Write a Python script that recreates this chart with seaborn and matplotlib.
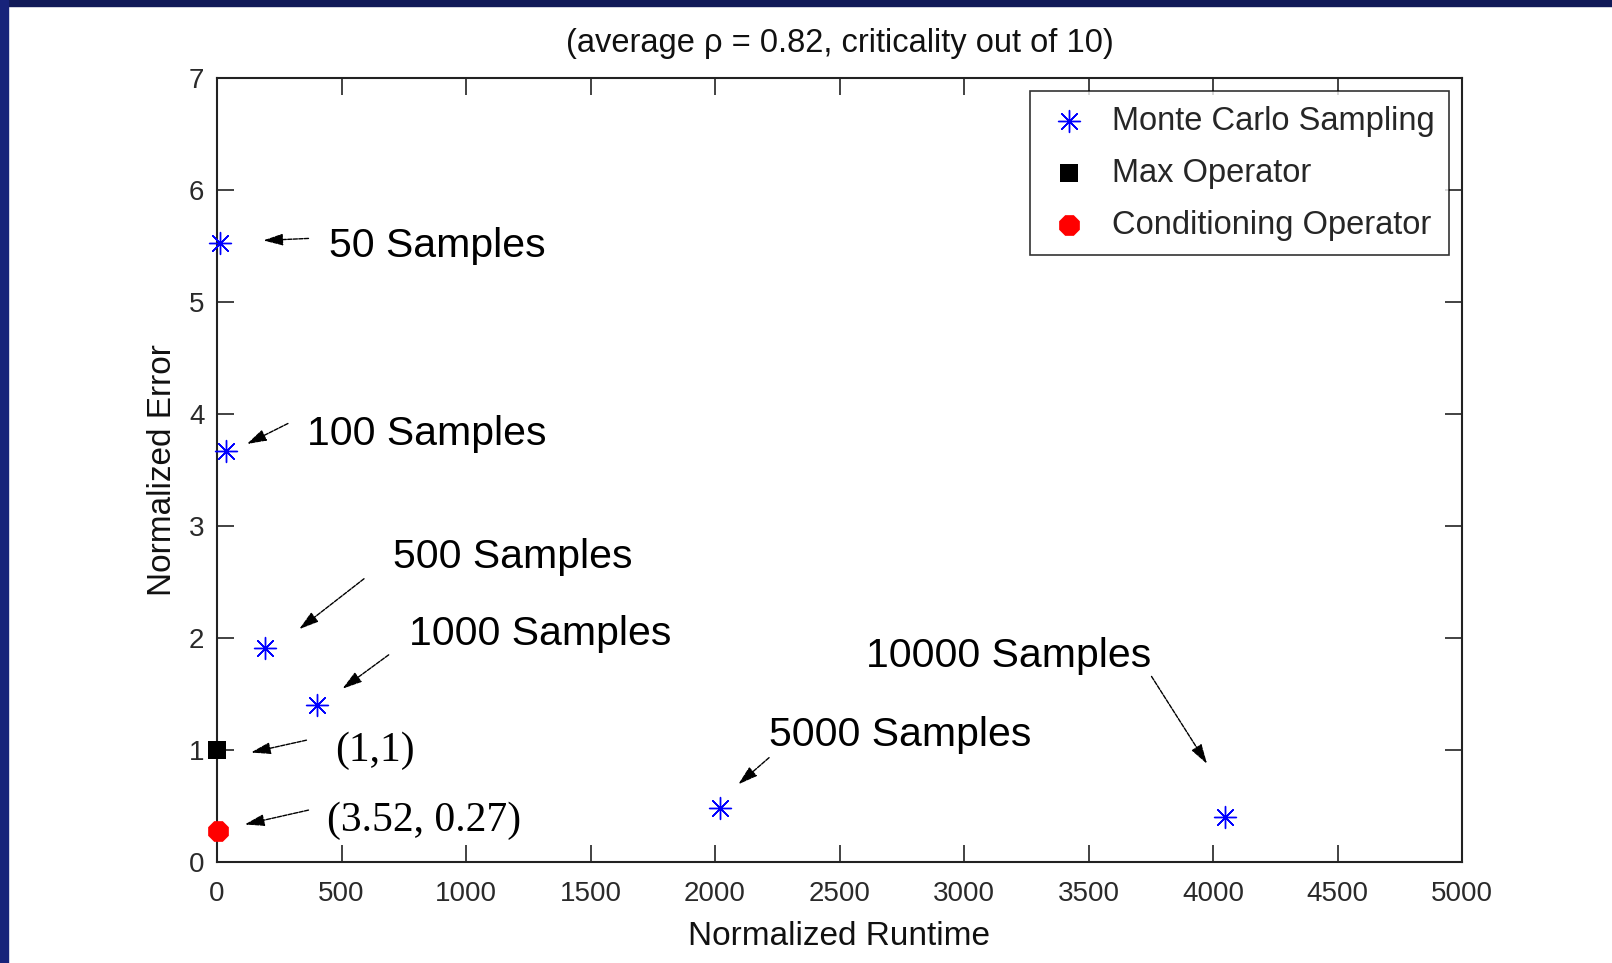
import numpy as np
import pandas as pd
import matplotlib
matplotlib.use("Agg")
import matplotlib.pyplot as plt
from matplotlib.patches import Rectangle
import seaborn as sns

# ---- data ----
mc_labels = ["50 Samples", "100 Samples", "500 Samples", "1000 Samples", "5000 Samples", "10000 Samples"]
mc_runtime = [12, 35, 194, 400, 2020, 4050]
mc_error = [5.53, 3.67, 1.91, 1.40, 0.48, 0.40]
max_runtime = [1]
max_error = [1]
cond_runtime = [3.52]
cond_error = [0.27]
x_ticks = [0, 500, 1000, 1500, 2000, 2500, 3000, 3500, 4000, 4500, 5000]
y_ticks = [0, 1, 2, 3, 4, 5, 6, 7]

sns.set_theme(style="white")
plt.rcParams["font.family"] = ["Liberation Sans", "DejaVu Sans"]

fig = plt.figure(figsize=(16.12, 9.63), dpi=100)
ax = fig.add_axes([217/1612, 1-861.5/963, (1462-217)/1612, (861.5-78)/963])

# border strips
fig.patches.append(Rectangle((0, 1-6/963), 1, 6/963, transform=fig.transFigure,
                             color="#111a58", zorder=0))
fig.patches.append(Rectangle((0, 0), 8/1612, 1, transform=fig.transFigure,
                             color="#17237a", zorder=0))

mc_df = pd.DataFrame({"runtime": mc_runtime, "error": mc_error})
max_df = pd.DataFrame({"runtime": max_runtime, "error": max_error})
cond_df = pd.DataFrame({"runtime": cond_runtime, "error": cond_error})

sns.scatterplot(data=mc_df, x="runtime", y="error", ax=ax, marker=(8, 2, 0),
                color="#0000ff", s=250, linewidth=1.0, label="Monte Carlo Sampling",
                zorder=5, clip_on=False)
sns.scatterplot(data=max_df, x="runtime", y="error", ax=ax, marker="s",
                color="black", edgecolor="black", s=170, linewidth=0,
                label="Max Operator", zorder=5, clip_on=False)
sns.scatterplot(data=cond_df, x="runtime", y="error", ax=ax, marker="8",
                color="red", edgecolor="red", s=260, linewidth=0,
                label="Conditioning Operator", zorder=5, clip_on=False)

ax.set_xlim(0, 5000)
ax.set_ylim(0, 7)
ax.set_xticks(x_ticks)
ax.set_yticks(y_ticks)
ax.set_xticklabels([str(t) for t in x_ticks])
ax.set_yticklabels([str(t) for t in y_ticks])
ax.tick_params(direction="in", length=12, width=1.2, color="#222222",
               labelsize=20, labelcolor="#2a2a2a", top=True, right=True,
               bottom=True, left=True)
ax.tick_params(axis="x", pad=14)
ax.tick_params(axis="y", pad=9)
for sp in ax.spines.values():
    sp.set_visible(True)
    sp.set_color("#222222")
    sp.set_linewidth(1.5)

ax.set_xlabel("Normalized Runtime", fontsize=24, labelpad=10, color="#111111")
ax.set_ylabel("Normalized Error", fontsize=24, labelpad=8, color="#111111")
ax.set_title("(average ρ = 0.82, criticality out of 10)", fontsize=23.5,
             pad=19, color="#111111")

# annotations (text anchor in data coords, arrow tip in data coords)
def px2data(px, py):
    return ((px - 211) / 0.2422, (838 - py) / 108.86)

arrowprops = dict(arrowstyle="-|>,head_length=1.0,head_width=0.3", color="black",
                  lw=1.0, linestyle=(0, (3, 1)), shrinkA=0, shrinkB=0)
ann = [
    ("50 Samples", (320, 239), (300, 232), (256, 234), "sans"),
    ("100 Samples", (299, 422), (280, 412), (240, 432), "sans"),
    ("500 Samples", (382, 542), (354, 563), (291, 612), "sans"),
    ("1000 Samples", (398, 617), (378, 637), (333, 670), "sans"),
    ("10000 Samples", (842, 638), (1120, 658), (1174, 743), "sans"),
    ("5000 Samples", (748, 715), (748, 737), (718, 763), "sans"),
    ("(1,1)", (326, 730), (298, 720), (244, 732), "serif"),
    ("(3.52, 0.27)", (318, 798), (300, 788), (238, 802), "serif"),
]
for text, tpos, astart, aend, fam in ann:
    tx, ty = px2data(*tpos)
    if fam == "serif":
        ax.text(tx, ty, text, fontsize=30, family=["Liberation Serif", "DejaVu Serif"],
                ha="left", va="center", color="black")
    else:
        ax.text(tx, ty, text, fontsize=29.5, ha="left", va="center", color="black")
    ax.annotate("", xy=px2data(*aend), xytext=px2data(*astart),
                arrowprops=arrowprops)

leg = ax.legend(loc="upper right", fontsize=23.5, frameon=True, fancybox=False,
                edgecolor="black", borderpad=0.45, labelspacing=0.64,
                handletextpad=0.55, borderaxespad=0.4, markerscale=1.0,
                handlelength=1.5)
leg.get_frame().set_linewidth(1.2)

fig.savefig("out.png", dpi=100, facecolor="white")
